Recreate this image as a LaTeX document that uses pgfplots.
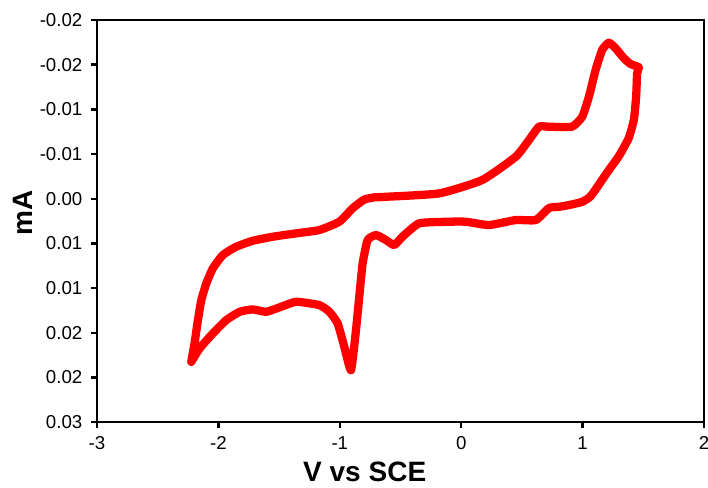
\documentclass[border=0pt]{standalone}
\usepackage{pgfplots}
\pgfplotsset{compat=1.18}
\usepackage{fontspec}
\setmainfont{Liberation Sans}
\begin{document}
\begin{tikzpicture}
\begin{axis}[
  scale only axis,
  width=455pt, height=301.5pt,
  xmin=-3, xmax=2, ymin=-0.02, ymax=0.025,
  y dir=reverse,
  scaled y ticks=false, scaled x ticks=false,
  axis line style={line width=1.8pt},
  every tick/.style={line width=1.8pt, black},
  major tick length=4.5pt,
  tick align=outside,
  xtick pos=bottom, ytick pos=left,
  xtick={-3,-2,-1,0,1,2},
  xticklabels={-3,-2,-1,0,1,2},
  ytick={-0.02,-0.015,-0.01,-0.005,0,0.005,0.01,0.015,0.02,0.025},
  yticklabels={-0.02,-0.02,-0.01,-0.01,0.00,0.01,0.01,0.02,0.02,0.03},
  tick label style={font=\fontsize{14}{16}\selectfont},
  yticklabel style={xshift=-3pt},
  xticklabel style={yshift=-3pt},
  xlabel={V vs SCE}, ylabel={mA},
  xlabel style={font=\fontsize{21}{24}\selectfont\bfseries, anchor=center, at={(axis description cs:0.441,0)}, yshift=-37.5pt},
  ylabel style={font=\fontsize{21}{24}\selectfont\bfseries, anchor=center, at={(axis description cs:-0.123,0.52)}},
  clip=false,
]
\addplot[red, line width=6.2pt, line join=round, line cap=round, smooth, tension=0.3] coordinates {
(-2.224,0.01825) (-2.197,0.01619) (-2.169,0.01358) (-2.141,0.01134) (-2.100,0.00947)
(-2.046,0.00779) (-1.964,0.00630) (-1.854,0.00537) (-1.717,0.00470) (-1.553,0.00425)
(-1.360,0.00387) (-1.169,0.00350) (-1.004,0.00257) (-0.895,0.00107) (-0.800,0.00010)
(-0.720,-0.00015) (-0.620,-0.00022) (-0.182,-0.00060) (0.172,-0.00209) (0.449,-0.00470)
(0.558,-0.00657) (0.641,-0.00806) (0.723,-0.00806) (0.912,-0.00806) (0.997,-0.00918)
(1.052,-0.01142) (1.107,-0.01441) (1.161,-0.01665) (1.216,-0.01746) (1.271,-0.01684)
(1.340,-0.01572) (1.395,-0.01508) (1.463,-0.01471)
(1.449,-0.01404) (1.441,-0.01142) (1.422,-0.00881) (1.380,-0.00680) (1.300,-0.00480)
(1.200,-0.00290) (1.110,-0.00110) (1.060,-0.00020) (0.997,0.00034) (0.887,0.00071)
(0.805,0.00090) (0.723,0.00104) (0.614,0.00238) (0.449,0.00238) (0.229,0.00294)
(0.038,0.00257) (-0.100,0.00257) (-0.346,0.00275) (-0.484,0.00425) (-0.552,0.00518)
(-0.620,0.00462) (-0.702,0.00406) (-0.771,0.00462) (-0.812,0.00723) (-0.840,0.01097)
(-0.867,0.01470) (-0.908,0.01918) (-0.963,0.01657) (-1.018,0.01395) (-1.086,0.01265)
(-1.169,0.01190) (-1.360,0.01153) (-1.498,0.01216) (-1.607,0.01265) (-1.717,0.01238)
(-1.826,0.01265) (-1.936,0.01358) (-2.046,0.01507) (-2.155,0.01675) (-2.224,0.01825)
};
\end{axis}
\pgfresetboundingbox
\path (current axis.south west) ++(-72.75pt,-48.75pt) coordinate (bl);
\path (current axis.north east) ++(3pt,15pt) coordinate (tr);
\useasboundingbox (bl) rectangle (tr);
\end{tikzpicture}
\end{document}
